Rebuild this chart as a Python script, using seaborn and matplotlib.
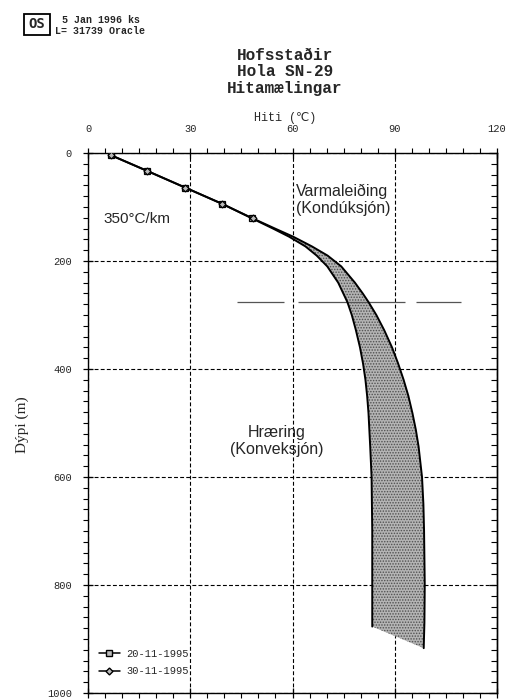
import numpy as np
import pandas as pd
import seaborn as sns
import matplotlib
matplotlib.use("Agg")
import matplotlib.pyplot as plt
from matplotlib.patches import Rectangle
from matplotlib.lines import Line2D
from matplotlib.ticker import MultipleLocator

# ---------------- data ----------------
series_labels = ["20-11-1995", "30-11-1995"]
depth_1 = [4, 33, 64, 94, 121, 140, 155, 173, 190, 210, 240, 276, 300, 328, 360, 390,
           420, 450, 482, 544, 600, 700, 800, 877]
temp_1 = [6.7, 17.3, 28.5, 39.3, 48.1, 54.3, 59.0, 63.8, 67.1, 70.2, 73.4, 76.1, 77.4,
          78.6, 79.8, 80.7, 81.4, 81.9, 82.3, 82.8, 83.2, 83.4, 83.4, 83.4]
depth_2 = [4, 33, 64, 94, 121, 140, 155, 173, 190, 210, 240, 260, 276, 300, 328, 360,
           390, 420, 450, 482, 513, 544, 600, 650, 700, 800, 870, 917]
temp_2 = [6.7, 17.3, 28.5, 39.3, 48.3, 54.9, 60.2, 65.7, 70.3, 74.3, 78.3, 80.6, 82.3,
          84.6, 86.9, 89.2, 91.0, 92.6, 94.0, 95.2, 96.2, 97.0, 98.0, 98.4, 98.6, 98.8,
          98.7, 98.5]
n_marked = 5

x_ticks = [0, 30, 60, 90, 120]
y_ticks = [0, 200, 400, 600, 800, 1000]

level_depth = 276
level_start = [43.8, 61.5, 96.2]
level_end = [57.4, 93.0, 109.4]

title_lines = ["Hofsstaðir", "Hola SN-29", "Hitamælingar"]
header_lines = ["5 Jan 1996 ks", "L= 31739 Oracle"]

# ---------------- style ----------------
sns.set_style("white")
plt.rcParams["font.family"] = ["Liberation Mono", "DejaVu Sans Mono", "DejaVu Sans"]
plt.rcParams["hatch.linewidth"] = 0.7

W, H = 509, 700
fig = plt.figure(figsize=(W / 100, H / 100), dpi=100)
x0, x1, y0, y1 = 88, 497, 153, 693
ax = fig.add_axes([x0 / W, 1 - y1 / H, (x1 - x0) / W, (y1 - y0) / H])

# shaded band between the two profiles
poly_x = temp_1 + temp_2[::-1]
poly_y = depth_1 + depth_2[::-1]
ax.fill(poly_x, poly_y, facecolor="#b4b4b4", edgecolor="#505050",
        hatch="......", linewidth=0, zorder=1)

mk = list(range(n_marked))
sns.lineplot(x=temp_1, y=depth_1, sort=False, estimator=None, ax=ax, color="black",
             lw=1.4, marker="s", markersize=5, markerfacecolor="#bbbbbb",
             markeredgecolor="black", markeredgewidth=0.9, markevery=mk, zorder=3)
sns.lineplot(x=temp_2, y=depth_2, sort=False, estimator=None, ax=ax, color="black",
             lw=1.4, marker="D", markersize=3.5, markerfacecolor="#bbbbbb",
             markeredgecolor="black", markeredgewidth=0.9, markevery=mk, zorder=3)

ax.hlines([level_depth] * len(level_start), level_start, level_end,
          color="#555555", lw=0.9, zorder=2)

ax.set_xlim(0, 120)
ax.set_ylim(1000, 0)
ax.set_xticks(x_ticks)
ax.set_yticks(y_ticks)
ax.xaxis.set_minor_locator(MultipleLocator(5))
ax.yaxis.set_minor_locator(MultipleLocator(20))
ax.set_xlabel("")
ax.set_ylabel("")

ax.grid(True, which="major", color="black", linestyle=(0, (3.5, 2)), lw=0.8, zorder=0)
for s in ax.spines.values():
    s.set_color("black")
    s.set_linewidth(1.0)

ax.tick_params(axis="x", which="both", top=True, bottom=True, labeltop=True,
               labelbottom=False, color="black")
ax.tick_params(axis="x", which="major", direction="inout", length=7, width=0.9,
               pad=10, labelsize=7.5)
ax.tick_params(axis="x", which="minor", direction="out", length=3.5, width=0.8)
ax.tick_params(axis="y", which="both", left=True, right=False, labelleft=True,
               labelright=False, color="black")
ax.tick_params(axis="y", which="major", direction="inout", length=7, width=0.9,
               pad=8, labelsize=7.5)
ax.tick_params(axis="y", which="minor", direction="out", length=3.5, width=0.8)

sec = ax.secondary_yaxis("right")
sec.set_yticks(y_ticks)
sec.yaxis.set_minor_locator(MultipleLocator(20))
sec.tick_params(axis="y", which="both", direction="in", labelright=False, color="black")
sec.tick_params(axis="y", which="major", length=6, width=0.9)
sec.tick_params(axis="y", which="minor", length=4, width=0.8)
sec.spines["right"].set_linewidth(1.0)

# annotations
sans = ["Liberation Sans", "DejaVu Sans"]
ax.text(4.4, 122, "350°C/km", family=sans, fontsize=11, ha="left", va="center", zorder=4)
ax.text(60.9, 87, "Varmaleiðing\n(Kondúksjón)", family=sans, fontsize=11.5,
        ha="left", va="center", linespacing=1.2, zorder=4)
ax.text(55.3, 533, "Hræring\n(Konveksjón)", family=sans, fontsize=11.5,
        ha="center", va="center", linespacing=1.2, zorder=4)

# legend
handles = [
    Line2D([0], [0], color="black", lw=1.1, marker="s", markersize=4,
           markerfacecolor="#bbbbbb", markeredgecolor="black"),
    Line2D([0], [0], color="black", lw=1.1, marker="D", markersize=3.5,
           markerfacecolor="#bbbbbb", markeredgecolor="black"),
]
fig.legend(handles, series_labels, loc="center left",
           bbox_to_anchor=(99 / W, 1 - 662.5 / H), frameon=False,
           prop={"family": ["Liberation Mono", "DejaVu Sans Mono"], "size": 7.5},
           handlelength=2.0, handletextpad=0.6, labelspacing=0.75, borderpad=0,
           borderaxespad=0)

# titles and labels
ys = [55, 72, 88]
for t, y in zip(title_lines, ys):
    fig.text(285 / W, 1 - y / H, t, ha="center", va="center", fontsize=11.5,
             fontweight="bold")
fig.text(285 / W, 1 - 118 / H, "Hiti (℃)", ha="center", va="center", fontsize=8.5,
         family=["Liberation Mono", "DejaVu Sans Mono", "DejaVu Sans"])
fig.text(22 / W, 1 - 425 / H, "Dýpi (m)", ha="center", va="center", rotation=90,
         fontsize=11, family=["Liberation Serif", "DejaVu Serif"])

# header block
fig.patches.append(Rectangle((24 / W, 1 - 35 / H), 26 / W, 21 / H, transform=fig.transFigure,
                             fill=False, edgecolor="black", lw=1.3))
fig.text(37 / W, 1 - 24.5 / H, "OS", ha="center", va="center", fontsize=10,
         fontweight="bold", family=["DejaVu Sans Mono"])
fig.text(62 / W, 1 - 20 / H, header_lines[0], ha="left", va="center", fontsize=7.2,
         fontweight="bold")
fig.text(55 / W, 1 - 31 / H, header_lines[1], ha="left", va="center", fontsize=7.2,
         fontweight="bold")

fig.savefig("out.png", dpi=100, facecolor="white")
